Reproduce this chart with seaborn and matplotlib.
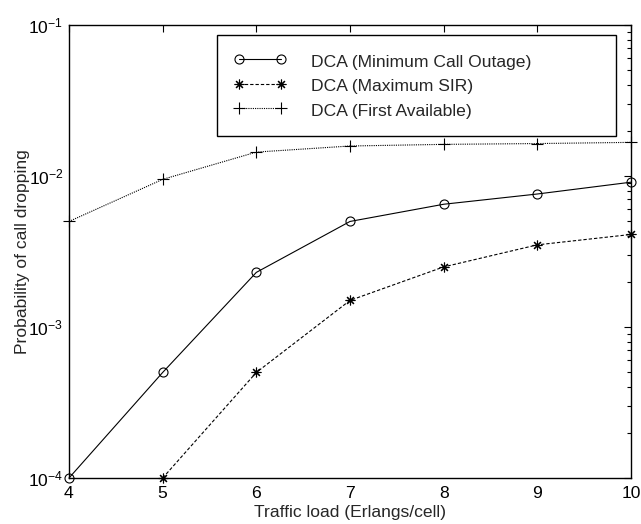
import math
import matplotlib
matplotlib.use("Agg")
import matplotlib.pyplot as plt
import matplotlib.ticker as mticker
import seaborn as sns
import numpy as np
import pandas as pd

traffic = [4, 5, 6, 7, 8, 9, 10]
min_call_outage = [1.0e-4, 5.0e-4, 2.3e-3, 5.0e-3, 6.5e-3, 7.6e-3, 9.1e-3]
max_sir = [np.nan, 1.0e-4, 5.0e-4, 1.5e-3, 2.5e-3, 3.5e-3, 4.1e-3]
first_available = [5.0e-3, 9.5e-3, 1.44e-2, 1.58e-2, 1.62e-2, 1.64e-2, 1.67e-2]
labels = ["DCA (Minimum Call Outage)", "DCA (Maximum SIR)", "DCA (First Available)"]
x_ticks = [4, 5, 6, 7, 8, 9, 10]
y_ticks = [1e-4, 1e-3, 1e-2, 1e-1]

sns.set_style("white")
plt.rcParams["font.family"] = ["Liberation Sans", "DejaVu Sans"]
plt.rcParams["mathtext.fontset"] = "custom"
plt.rcParams["mathtext.rm"] = "Liberation Sans"
plt.rcParams["mathtext.it"] = "Liberation Sans"
plt.rcParams["mathtext.default"] = "regular"

FS = 12.6

fig = plt.figure(figsize=(6.41, 5.24), dpi=100)
ax = fig.add_axes([69 / 641, 46 / 524, 562 / 641, 453 / 524])

df = pd.DataFrame({"x": traffic, "a": min_call_outage, "b": max_sir, "c": first_available})

styles = [
    ("a", "o", "-", 6.5, "none", 0.8),
    ("b", (8, 2, 0), (0, (3, 1.8)), 7, "black", 0.8),
    ("c", "+", (0, (1, 1)), 8, "black", 0.8),
]
for (col, mk, ls, ms, mfc, lw), lab in zip(styles, labels):
    sub = df[["x", col]].dropna()
    sns.lineplot(data=sub, x="x", y=col, ax=ax, color="black", marker=mk,
                 linestyle=ls, markersize=ms, markerfacecolor=mfc,
                 markeredgecolor="black", markeredgewidth=0.8, linewidth=lw,
                 label=lab, clip_on=False)

ax.set_yscale("log")
ax.set_xlim(4, 10)
ax.set_ylim(1e-4, 1e-1)
ax.set_xticks(x_ticks)
ax.set_xticklabels([str(t) for t in x_ticks])
ax.set_yticks(y_ticks)
ax.set_yticklabels([r"$10^{%d}$" % int(round(math.log10(t))) for t in y_ticks])
ax.yaxis.set_minor_locator(mticker.LogLocator(base=10, subs=range(2, 10), numticks=20))
ax.yaxis.set_minor_formatter(mticker.NullFormatter())

ax.tick_params(axis="both", which="both", direction="in", top=True, right=True,
               labelsize=FS, colors="black", width=0.8)
ax.tick_params(axis="both", which="major", length=5)
ax.tick_params(axis="x", which="major", pad=6)
ax.tick_params(axis="y", which="major", pad=4)
ax.tick_params(axis="y", which="minor", length=3)
for s in ax.spines.values():
    s.set_color("black")
    s.set_linewidth(1.0)

ax.set_xlabel("Traffic load (Erlangs/cell)", fontsize=FS, labelpad=3)
ax.set_ylabel("Probability of call dropping", fontsize=FS, labelpad=-1)

leg = ax.legend(loc="upper left",
                bbox_to_anchor=(217 / 641, 1 - 137 / 524, (616 - 217) / 641, (137 - 35) / 524),
                bbox_transform=fig.transFigure, mode="expand",
                fontsize=FS, frameon=True, fancybox=False, edgecolor="black",
                numpoints=2, handlelength=3.0, handleheight=1.3,
                borderpad=0.95, labelspacing=0.3, handletextpad=1.4, borderaxespad=0)
leg.get_frame().set_linewidth(1.0)
leg.get_frame().set_alpha(1)

fig.savefig("out.png", dpi=100)
